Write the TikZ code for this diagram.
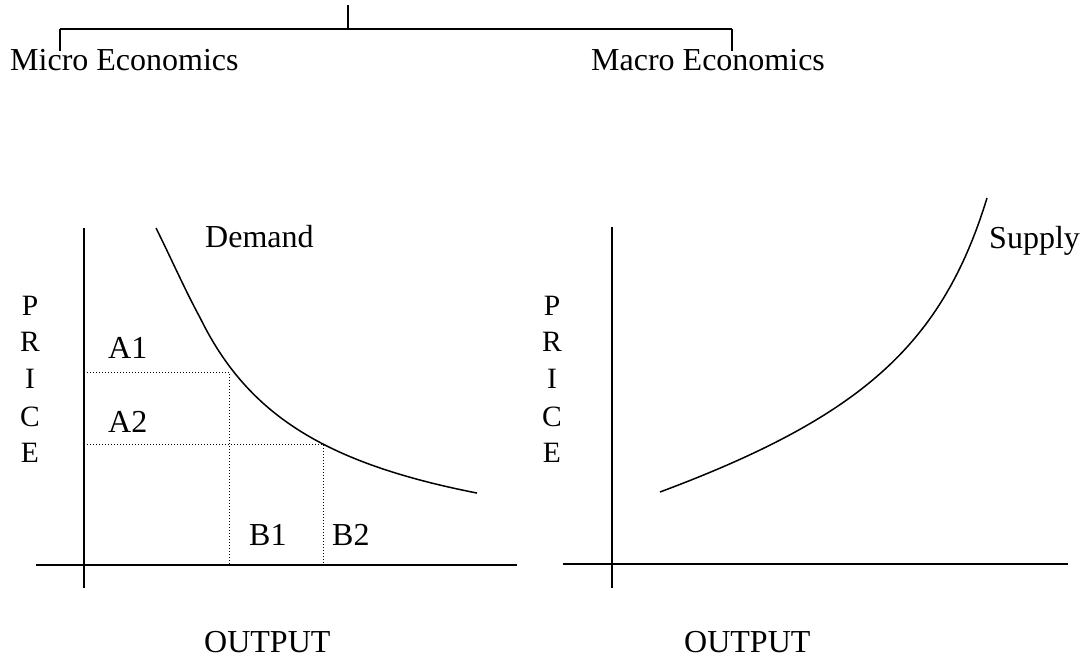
\documentclass[tikz,border=0pt]{standalone}
\usepackage{fontspec}
\setmainfont{Liberation Serif}
\begin{document}
\begin{tikzpicture}[x=1pt,y=-1pt,
  lbl/.style={anchor=base west,inner sep=0pt,font=\fontsize{32}{38}\selectfont},
  letter/.style={anchor=base,inner sep=0pt,font=\fontsize{29.5}{35}\selectfont},
  axis/.style={line width=2pt},
  curve/.style={line width=1.5pt},
  tree/.style={line width=1.5pt},
  guide/.style={line width=1pt,dash pattern=on 1pt off 2pt}]
\useasboundingbox (0,0) rectangle (1081,657);
% top tree
\coordinate (root) at (348,5);
\coordinate (junc) at (348,29);
\coordinate (jl) at (60,29);
\coordinate (jr) at (732,29);
\coordinate (dl) at (60,51);
\coordinate (dr) at (732,51);
\node[lbl] (micro) at (10,70) {Micro Economics};
\node[lbl] (macro) at (591,70) {Macro Economics};
\draw[tree] (root) -- (junc);
\draw[tree] (jl) -- (jr);
\draw[tree] (jl) -- (dl);
\draw[tree] (jr) -- (dr);
% left graph
\coordinate (lvt) at (84,228);
\coordinate (lvb) at (84,588);
\coordinate (lhl) at (36,565);
\coordinate (lhr) at (517,565);
\draw[axis] (lvt) -- (lvb);
\draw[axis] (lhl) -- (lhr);
\draw[curve,line join=round] (156,228) .. controls (170,256) and (185,290) .. (200,317.6)
  -- plot[domain=200:477,samples=80] (\x,{571.7-315.6/((\x-75.8)/100)});
\coordinate (a1s) at (87,372);
\coordinate (a1c) at (229,372);
\coordinate (b1b) at (229,565);
\coordinate (a2s) at (87,444);
\coordinate (a2c) at (323,444);
\coordinate (b2b) at (323,565);
\draw[guide] (a1s) -- (a1c) -- (b1b);
\draw[guide] (a2s) -- (a2c) -- (b2b);
\node[lbl] (demand) at (205,247) {Demand};
\node[lbl] (a1) at (108,358) {A1};
\node[lbl] (a2) at (108,432) {A2};
\node[lbl] (b1) at (249,545) {B1};
\node[lbl] (b2) at (332,545) {B2};
\node[lbl] (outl) at (204,652) {OUTPUT};
\node[letter] (lp) at (30,315) {P};
\node[letter] (lr) at (30,351) {R};
\node[letter] (li) at (30,388) {I};
\node[letter] (lc) at (30,426) {C};
\node[letter] (le) at (30,462) {E};
% right graph
\coordinate (rvt) at (612,227);
\coordinate (rvb) at (612,588);
\coordinate (rhl) at (563,564);
\coordinate (rhr) at (1068,564);
\draw[axis] (rvt) -- (rvb);
\draw[axis] (rhl) -- (rhr);
\draw[curve,line join=round] plot[domain=660:987,samples=90] (\x,{554.8-0.2237*(\x-660)-263.78/((1080-\x)/100)});
\node[lbl] (supply) at (989,248) {Supply};
\node[lbl] (outr) at (684,652) {OUTPUT};
\node[letter] (rp) at (552,315) {P};
\node[letter] (rr) at (552,351) {R};
\node[letter] (ri) at (552,388) {I};
\node[letter] (rc) at (552,426) {C};
\node[letter] (re) at (552,462) {E};
\end{tikzpicture}
\end{document}
